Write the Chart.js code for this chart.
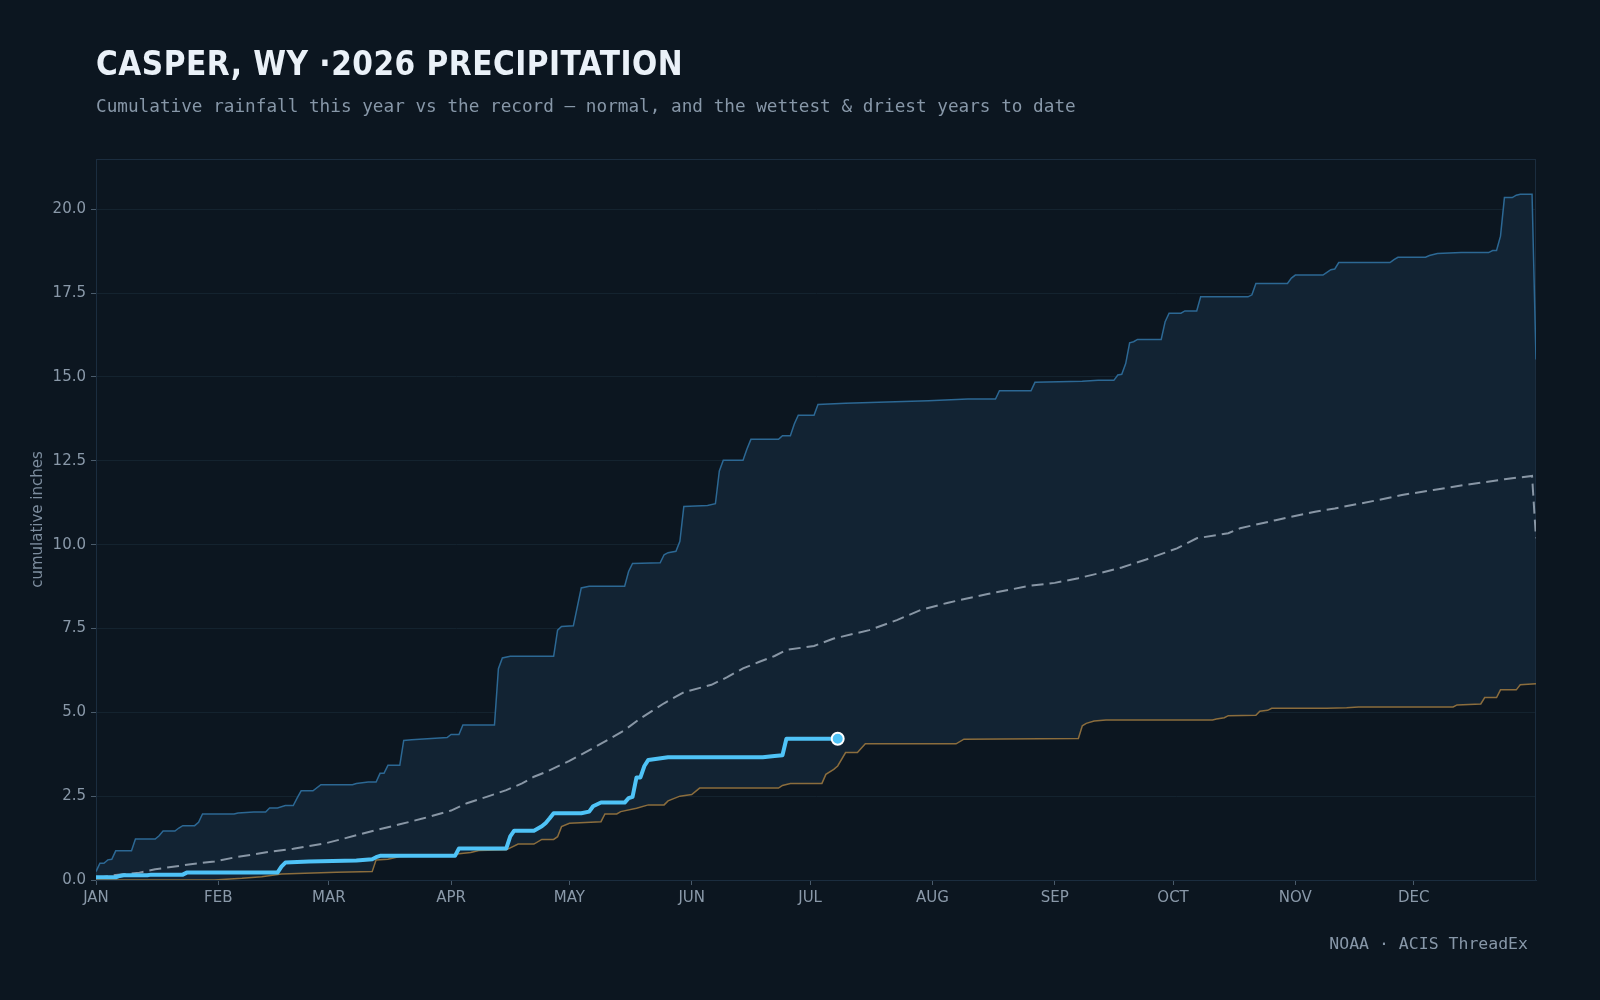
<!DOCTYPE html>
<html><head><meta charset="utf-8">
<script src="https://cdn.jsdelivr.net/npm/chart.js@4.4.1/dist/chart.umd.min.js"></script>
<style>
html,body{margin:0;padding:0;background:#0c1620;}
#wrap{position:relative;width:1600px;height:1000px;overflow:hidden;background:#0c1620;}
#title{position:absolute;left:96px;top:47px;font-family:"DejaVu Sans Condensed","DejaVu Sans",sans-serif;font-stretch:condensed;font-weight:bold;font-size:33px;line-height:33px;letter-spacing:0.5px;color:#eaf1f8;white-space:nowrap;}
#sub{position:absolute;left:96px;top:97px;font-family:"DejaVu Sans Mono",monospace;font-size:17.7px;line-height:18px;color:#8797a8;white-space:nowrap;}
#foot{position:absolute;right:72px;top:936px;font-family:"DejaVu Sans Mono",monospace;font-size:16.5px;line-height:16.5px;color:#8797a8;white-space:nowrap;}
canvas{position:absolute;left:0;top:0;}
</style></head>
<body>
<div id="wrap">
<canvas id="c" width="1600" height="1000"></canvas>
<div id="title">CASPER, WY ·2026 PRECIPITATION</div>
<div id="sub">Cumulative rainfall this year vs the record — normal, and the wettest &amp; driest years to date</div>
<div id="foot">NOAA · ACIS ThreadEx</div>
</div>
<script>
// ---- data: [day of year (0 = Jan 1), cumulative inches] ----
const monthStarts = [0,31,59,90,120,151,181,212,243,273,304,334];
const monthLabels = ['JAN','FEB','MAR','APR','MAY','JUN','JUL','AUG','SEP','OCT','NOV','DEC'];
const yTicks = [0,2.5,5,7.5,10,12.5,15,17.5,20];

const thisYear = [[0,0.08],[5,0.08],[6,0.12],[7,0.14],[13,0.14],[14,0.16],[22,0.16],[23,0.22],[46,0.22],[47,0.40],[48,0.52],[54,0.55],[66,0.58],[70,0.62],[71,0.68],[72,0.72],[91,0.72],[92,0.94],[104,0.94],[105,1.30],[106,1.47],[111,1.47],[113,1.60],[114,1.70],[115,1.84],[116,1.99],[123,1.99],[125,2.04],[126,2.20],[128,2.31],[134,2.31],[135,2.44],[136,2.48],[137,3.06],[138,3.06],[139,3.40],[140,3.58],[145,3.66],[169,3.66],[172,3.70],[174,3.72],[175,4.21],[188,4.21]];

const normal = [[0,0.05],[5,0.15],[11,0.22],[15,0.32],[21,0.42],[24,0.47],[30,0.55],[35,0.67],[44,0.84],[50,0.93],[58,1.09],[63,1.24],[71,1.49],[77,1.66],[83,1.84],[90,2.07],[94,2.29],[99,2.48],[104,2.68],[108,2.88],[111,3.08],[114,3.22],[120,3.55],[126,3.93],[130,4.20],[134,4.47],[138,4.82],[144,5.27],[149,5.60],[156,5.82],[160,6.05],[164,6.31],[168,6.50],[172,6.68],[175,6.86],[182,6.98],[187,7.20],[196,7.45],[203,7.75],[209,8.05],[216,8.27],[226,8.53],[237,8.78],[243,8.86],[249,9.00],[254,9.14],[260,9.32],[266,9.55],[274,9.89],[279,10.19],[287,10.34],[290,10.49],[299,10.73],[309,10.98],[314,11.08],[325,11.33],[331,11.48],[339,11.63],[347,11.78],[357,11.95],[364,12.05],[365,10.19]];

const wettest = [[0,0.25],[1,0.50],[2,0.50],[3,0.60],[4,0.62],[5,0.87],[9,0.87],[10,1.22],[15,1.22],[16,1.32],[17,1.46],[20,1.46],[21,1.55],[22,1.62],[25,1.62],[26,1.72],[27,1.97],[35,1.97],[36,2.00],[40,2.03],[43,2.03],[44,2.15],[46,2.15],[48,2.22],[50,2.22],[51,2.45],[52,2.66],[55,2.66],[57,2.84],[65,2.84],[66,2.88],[69,2.92],[71,2.92],[72,3.18],[73,3.18],[74,3.42],[77,3.42],[78,4.16],[80,4.18],[85,4.22],[89,4.25],[90,4.34],[92,4.34],[93,4.62],[101,4.62],[102,6.30],[103,6.62],[105,6.67],[116,6.67],[117,7.45],[118,7.56],[121,7.58],[123,8.71],[125,8.76],[134,8.76],[135,9.20],[136,9.44],[143,9.46],[144,9.70],[145,9.76],[147,9.80],[148,10.10],[149,11.14],[155,11.17],[157,11.22],[158,12.20],[159,12.52],[164,12.52],[165,12.85],[166,13.14],[173,13.14],[174,13.25],[176,13.25],[177,13.60],[178,13.86],[182,13.86],[183,14.18],[190,14.22],[211,14.29],[221,14.34],[228,14.34],[229,14.59],[237,14.59],[238,14.84],[250,14.87],[254,14.90],[258,14.90],[259,15.06],[260,15.08],[261,15.40],[262,16.02],[263,16.05],[264,16.12],[270,16.12],[271,16.65],[272,16.90],[275,16.90],[276,16.97],[279,16.97],[280,17.39],[292,17.39],[293,17.45],[294,17.79],[302,17.79],[303,17.95],[304,18.04],[311,18.04],[312,18.12],[313,18.20],[314,18.22],[315,18.41],[328,18.41],[329,18.50],[330,18.57],[337,18.57],[338,18.62],[339,18.65],[340,18.68],[346,18.71],[353,18.71],[354,18.77],[355,18.77],[356,19.20],[357,20.35],[359,20.35],[360,20.42],[361,20.45],[364,20.45],[365,15.52]];

const driest = [[0,0],[30,0],[37,0.05],[42,0.10],[47,0.18],[53,0.20],[61,0.23],[70,0.25],[71,0.60],[74,0.62],[77,0.70],[90,0.74],[92,0.78],[95,0.82],[97,0.88],[104,0.90],[107,1.07],[111,1.07],[113,1.21],[116,1.21],[117,1.29],[118,1.59],[120,1.69],[128,1.74],[129,1.97],[132,1.97],[133,2.04],[137,2.14],[140,2.24],[144,2.24],[145,2.36],[148,2.50],[151,2.55],[153,2.74],[173,2.74],[174,2.82],[176,2.88],[184,2.88],[185,3.15],[187,3.30],[188,3.40],[190,3.80],[193,3.80],[195,4.06],[218,4.06],[220,4.20],[249,4.22],[250,4.60],[251,4.67],[253,4.74],[256,4.77],[283,4.77],[284,4.80],[286,4.84],[287,4.90],[294,4.91],[295,5.03],[297,5.06],[298,5.12],[312,5.12],[317,5.14],[320,5.16],[344,5.16],[345,5.22],[351,5.25],[352,5.44],[355,5.44],[356,5.67],[360,5.67],[361,5.82],[365,5.85]];

const toPts = a => a.map(([x, y]) => ({x, y}));

const frame = {
  id: 'frame',
  beforeDatasetsDraw(chart) {
    const {ctx, chartArea: a} = chart;
    ctx.save();
    ctx.strokeStyle = '#1b2d3f';
    ctx.lineWidth = 1;
    ctx.strokeRect(a.left + 0.5, a.top + 0.5, a.right - a.left - 1, a.bottom - a.top);
    ctx.restore();
  }
};

const lastIdx = thisYear.length - 1;
new Chart(document.getElementById('c'), {
  type: 'line',
  data: {
    datasets: [
      { label: 'This year', data: toPts(thisYear), borderColor: '#4fc3f7', borderWidth: 4,
        borderJoinStyle: 'round', borderCapStyle: 'round', fill: false, tension: 0,
        pointRadius: c => c.dataIndex === lastIdx ? 6 : 0,
        pointBackgroundColor: '#4fc3f7', pointBorderColor: '#ffffff', pointBorderWidth: 2 },
      { label: 'Normal', data: toPts(normal), borderColor: '#8896a5', borderWidth: 2,
        borderDash: [12, 6], fill: false, tension: 0, pointRadius: 0 },
      { label: 'Wettest', data: toPts(wettest), borderColor: '#2c6894', borderWidth: 1.5,
        fill: { target: 3 }, backgroundColor: '#122333', tension: 0, pointRadius: 0 },
      { label: 'Driest', data: toPts(driest), borderColor: '#8b6d3d', borderWidth: 1.5,
        fill: false, tension: 0, pointRadius: 0 }
    ]
  },
  options: {
    responsive: false,
    animation: false,
    events: [],
    layout: { padding: { top: 159, right: 64, bottom: 80, left: 0 } },
    plugins: {
      legend: { display: false },
      tooltip: { enabled: false },
      filler: { drawTime: 'beforeDatasetsDraw' }
    },
    scales: {
      x: {
        type: 'linear', min: 0, max: 365,
        afterFit: s => { s.height = 40; },
        afterBuildTicks: s => { s.ticks = monthStarts.map(v => ({ value: v })); },
        ticks: { autoSkip: false, maxRotation: 0, padding: 4, color: '#8a99a9',
          font: { family: 'DejaVu Sans', size: 15 },
          callback: (v) => monthLabels[monthStarts.indexOf(v)] },
        grid: { display: true, drawOnChartArea: false, drawTicks: true, tickLength: 5, tickColor: '#4a5b6b' },
        border: { display: true, color: '#1b2d3f' }
      },
      y: {
        type: 'linear', min: 0, max: 21.5,
        afterFit: s => { s.width = 96; },
        afterBuildTicks: s => { s.ticks = yTicks.map(v => ({ value: v })); },
        ticks: { padding: 5, color: '#8a99a9', font: { family: 'DejaVu Sans', size: 15 },
          callback: v => Number(v).toFixed(1) },
        grid: { color: '#14232f', lineWidth: 1, tickLength: 5, tickColor: '#4a5b6b' },
        border: { display: true, color: '#1b2d3f' },
        title: { display: true, text: 'cumulative inches', color: '#7d8d9e',
          font: { family: 'DejaVu Sans', size: 15 }, padding: { top: 29, bottom: 0 } }
      }
    }
  },
  plugins: [frame]
});
</script>
</body></html>
